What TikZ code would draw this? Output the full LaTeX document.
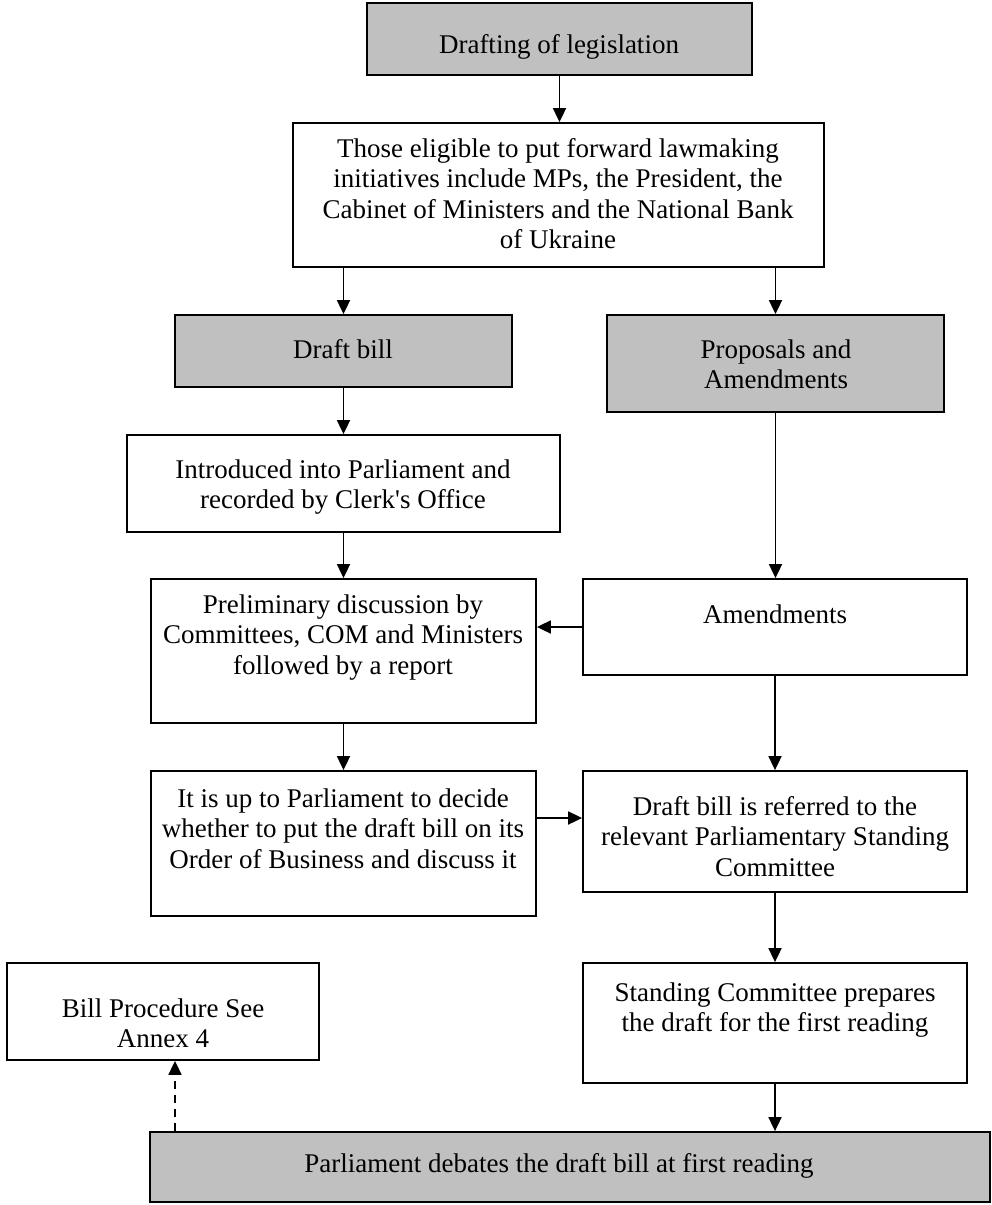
\documentclass[tikz,border=0pt]{standalone}
\usepackage{fontspec}
\setmainfont{Liberation Serif}[Ligatures=TeXOff]
\usetikzlibrary{arrows.meta,calc}
\definecolor{boxgray}{HTML}{C0C0C0}
\tikzset{
  box/.style={draw=black, line width=1.8pt, rectangle, inner sep=0pt},
  graybox/.style={box, fill=boxgray},
  txt/.style={anchor=base, align=center, inner sep=0pt, font=\fontsize{27}{30.5}\selectfont},
  conn/.style={line width=1.8pt, -{Triangle[length=14pt,width=13pt]}},
  dconn/.style={conn, dash pattern=on 8pt off 6pt}
}
\begin{document}
\begin{tikzpicture}[x=1pt,y=-1pt]
\useasboundingbox (0,0) rectangle (992,1205);
% boxes
\node[graybox, minimum width=385pt, minimum height=72pt] (b1) at (559.5,39) {};
\node[box, minimum width=531pt, minimum height=144pt] (b2) at (558.5,195) {};
\node[graybox, minimum width=337pt, minimum height=72pt] (b3) at (343.5,351) {};
\node[graybox, minimum width=337pt, minimum height=97pt] (b4) at (775.5,363.5) {};
\node[box, minimum width=433pt, minimum height=97pt] (b5) at (343.5,483.5) {};
\node[box, minimum width=385pt, minimum height=144pt] (b6) at (343.5,651) {};
\node[box, minimum width=384pt, minimum height=96pt] (b7) at (775,627) {};
\node[box, minimum width=385pt, minimum height=145pt] (b8) at (343.5,843.5) {};
\node[box, minimum width=384pt, minimum height=121pt] (b9) at (775,831.5) {};
\node[box, minimum width=384pt, minimum height=120pt] (b10) at (775,1023) {};
\node[box, minimum width=312pt, minimum height=97pt] (b11) at (163,1011.5) {};
\node[graybox, minimum width=840pt, minimum height=70pt] (b12) at (570,1167) {};
% texts (anchor base = baseline of the last line)
\node[txt] (t1) at (559,53) {Drafting of legislation};
\node[txt] (t2) at (558,248.5) {Those eligible to put forward lawmaking\\initiatives include MPs, the President, the\\Cabinet of Ministers and the National Bank\\of Ukraine};
\node[txt] (t3) at (343,358) {Draft bill};
\node[txt] (t4) at (776,388.5) {Proposals and\\Amendments};
\node[txt] (t5) at (343,508.5) {Introduced into Parliament and\\recorded by Clerk's Office};
\node[txt] (t6) at (343,674) {Preliminary discussion by\\Committees, COM and Ministers\\followed by a report};
\node[txt] (t7) at (775,623) {Amendments};
\node[txt] (t8) at (343,868) {It is up to Parliament to decide\\whether to put the draft bill on its\\Order of Business and discuss it};
\node[txt] (t9) at (775,876) {Draft bill is referred to the\\relevant Parliamentary Standing\\Committee};
\node[txt] (t10) at (775,1031.5) {Standing Committee prepares\\the draft for the first reading};
\node[txt] (t11) at (163,1047.5) {Bill Procedure See\\Annex 4};
\node[txt] (t12) at (559,1172) {Parliament debates the draft bill at first reading};
% connector helper coordinates
\coordinate (c89) at (536,818);
\coordinate (cdash) at (175,1100);
% connectors
\draw[conn] (b1.south) -- (b1.south |- b2.north);
\draw[conn] (b3.north |- b2.south) -- (b3.north);
\draw[conn] (b4.north |- b2.south) -- (b4.north);
\draw[conn] (b3.south) -- (b3.south |- b5.north);
\draw[conn] (b4.south) -- (b4.south |- b7.north);
\draw[conn] (b5.south) -- (b5.south |- b6.north);
\draw[conn] (b7.west) -- (b7.west -| b6.east);
\draw[conn] (b6.south) -- (b6.south |- b8.north);
\draw[conn] (b7.south) -- (b7.south |- b9.north);
\draw[conn] (c89) -- (c89 -| b9.west);
\draw[conn] (b9.south) -- (b9.south |- b10.north);
\draw[conn] (b10.south) -- (b10.south |- b12.north);
\draw[dconn] (cdash |- b12.north) -- (cdash |- b11.south);
\end{tikzpicture}
\end{document}
